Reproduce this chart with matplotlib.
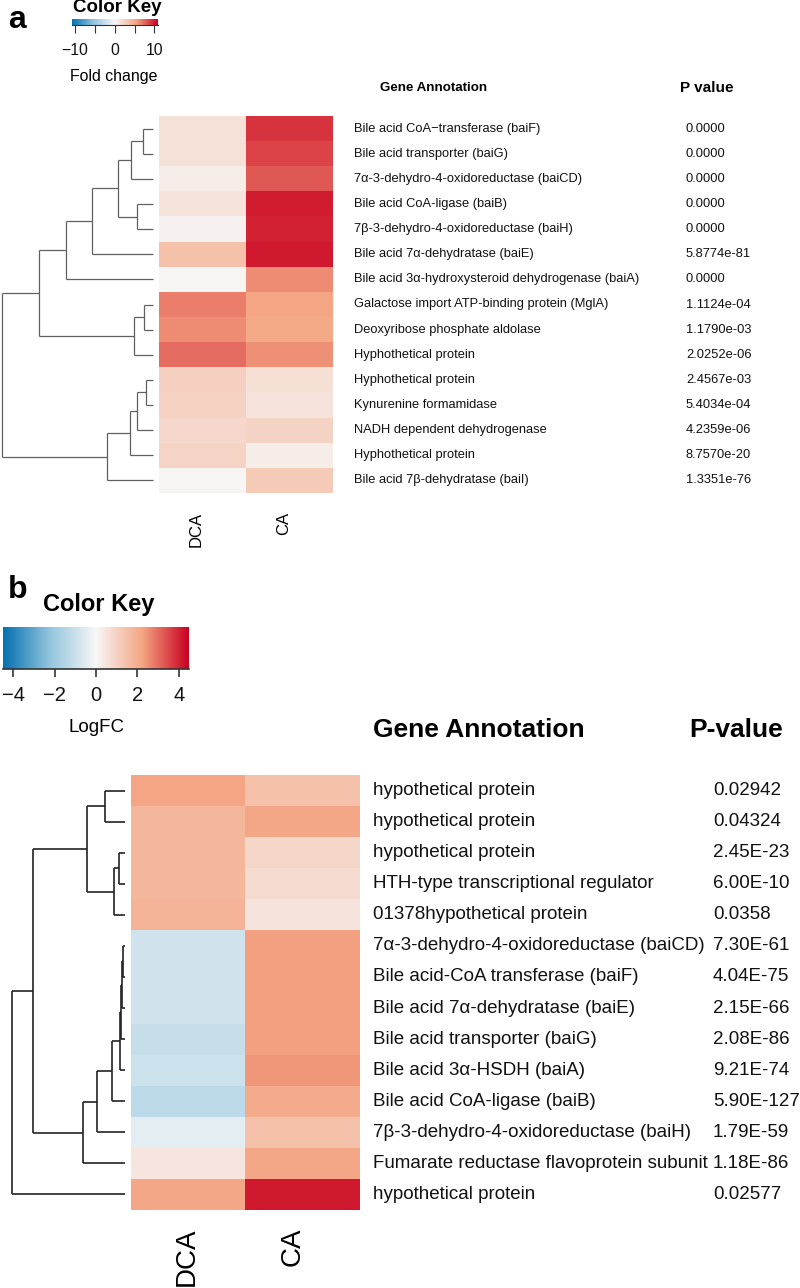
import numpy as np
import matplotlib
matplotlib.use("Agg")
import matplotlib.pyplot as plt
from matplotlib.colors import LinearSegmentedColormap

plt.rcParams['font.family'] = ['Liberation Sans', 'DejaVu Sans']

# ---------------- data: panel a ----------------
a_columns = ["DCA", "CA"]
a_genes = [
    "Bile acid CoA\u2212transferase (baiF)",
    "Bile acid transporter (baiG)",
    "7\u03b1-3-dehydro-4-oxidoreductase (baiCD)",
    "Bile acid CoA-ligase (baiB)",
    "7\u03b2-3-dehydro-4-oxidoreductase (baiH)",
    "Bile acid 7\u03b1-dehydratase (baiE)",
    "Bile acid 3\u03b1-hydroxysteroid dehydrogenase (baiA)",
    "Galactose import ATP-binding protein (MglA)",
    "Deoxyribose phosphate aldolase",
    "Hyphothetical protein",
    "Hyphothetical protein",
    "Kynurenine formamidase",
    "NADH dependent dehydrogenase",
    "Hyphothetical protein",
    "Bile acid 7\u03b2-dehydratase (baiI)",
]
a_pvalues = ["0.0000", "0.0000", "0.0000", "0.0000", "0.0000", "5.8774e-81", "0.0000",
             "1.1124e-04", "1.1790e-03", "2.0252e-06", "2.4567e-03", "5.4034e-04",
             "4.2359e-06", "8.7570e-20", "1.3351e-76"]
a_dca = [1.4, 1.4, 0.6, 1.2, 0.4, 3.5, 0.1, 6.6, 6.2, 7.2, 2.6, 2.4, 2.0, 2.2, 0.1]
a_ca = [9.1, 8.6, 7.9, 9.8, 9.7, 9.9, 6.2, 5.3, 5.1, 6.0, 1.5, 1.25, 2.3, 0.6, 2.9]
# dendrogram merges (left, right, height); leaves 0..14, new clusters from 15
a_merges = [(0, 1, 10), (15, 2, 22), (3, 4, 16), (16, 17, 35), (18, 5, 61), (19, 6, 87),
            (7, 8, 9), (21, 9, 19), (20, 22, 114), (10, 11, 7), (24, 12, 16), (25, 13, 23),
            (26, 14, 46), (23, 27, 151)]
a_key_ticks = [-10, -5, 0, 5, 10]
a_key_labels = ["\u221210", "", "0", "", "10"]

# ---------------- data: panel b ----------------
b_columns = ["DCA", "CA"]
b_genes = [
    "hypothetical protein",
    "hypothetical protein",
    "hypothetical protein",
    "HTH-type transcriptional regulator",
    "01378hypothetical protein",
    "7\u03b1-3-dehydro-4-oxidoreductase (baiCD)",
    "Bile acid-CoA transferase (baiF)",
    "Bile acid 7\u03b1-dehydratase (baiE)",
    "Bile acid transporter (baiG)",
    "Bile acid 3\u03b1-HSDH (baiA)",
    "Bile acid CoA-ligase (baiB)",
    "7\u03b2-3-dehydro-4-oxidoreductase (baiH)",
    "Fumarate reductase flavoprotein subunit",
    "hypothetical protein",
]
b_pvalues = ["0.02942", "0.04324", "2.45E-23", "6.00E-10", "0.0358", "7.30E-61", "4.04E-75",
             "2.15E-66", "2.08E-86", "9.21E-74", "5.90E-127", "1.79E-59", "1.18E-86", "0.02577"]
b_dca = [2.2, 1.73, 1.73, 1.73, 1.84, -0.87, -0.87, -0.87, -1.09, -0.96, -1.31, -0.42, 0.47, 2.17]
b_ca = [1.45, 2.17, 0.85, 0.74, 0.52, 2.3, 2.3, 2.3, 2.3, 2.45, 2.06, 1.5, 2.17, 4.12]
b_merges = [(0, 1, 20), (2, 3, 5.7), (15, 4, 11), (14, 16, 38), (5, 6, 1.7), (18, 7, 3.3),
            (19, 8, 4.3), (20, 9, 5), (21, 10, 13.3), (22, 11, 27.7), (23, 12, 41.7),
            (17, 24, 91.7), (25, 13, 113.3)]
b_key_ticks = [-4, -2, 0, 2, 4]
b_key_labels = ["\u22124", "\u22122", "0", "2", "4"]

# ---------------- helpers ----------------
W, H = 800, 1288
fig = plt.figure(figsize=(W / 100, H / 100), dpi=100)
cmap = LinearSegmentedColormap.from_list(
    "rdbu5", ["#0571b0", "#92c5de", "#f7f7f7", "#f4a582", "#ca0020"])


def px_axes(x0, y0, x1, y1):
    ax = fig.add_axes([x0 / W, 1 - y1 / H, (x1 - x0) / W, (y1 - y0) / H])
    return ax


def ftext(x, y, s, **kw):
    fig.text(x / W, 1 - y / H, s, **kw)


def draw_dendro(ax, merges, n, color, lw):
    pos = {i: (i + 0.5, 0.0) for i in range(n)}
    for k, (l, r, h) in enumerate(merges):
        yl, hl = pos[l]
        yr, hr = pos[r]
        ax.plot([hl, h], [yl, yl], color=color, lw=lw, solid_capstyle='butt', clip_on=False)
        ax.plot([hr, h], [yr, yr], color=color, lw=lw, solid_capstyle='butt', clip_on=False)
        ax.plot([h, h], [yl, yr], color=color, lw=lw, solid_capstyle='butt', clip_on=False)
        pos[n + k] = ((yl + yr) / 2, h)


def heat(ax, dca, ca, vmax):
    data = np.column_stack([dca, ca])
    ax.imshow(data, cmap=cmap, vmin=-vmax, vmax=vmax, aspect='auto',
              interpolation='nearest', extent=(0, 2, len(dca), 0))
    ax.set_axis_off()


def key(ax, vmax, ticks, labels, fs, tick_len, pad, lw):
    grad = np.linspace(-vmax, vmax, 256).reshape(1, -1)
    ax.imshow(grad, cmap=cmap, vmin=-vmax, vmax=vmax, aspect='auto',
              extent=(-vmax, vmax, 0, 1))
    ax.set_xlim(-vmax, vmax)
    ax.set_yticks([])
    for s in ['top', 'left', 'right']:
        ax.spines[s].set_visible(False)
    ax.spines['bottom'].set_linewidth(lw)
    ax.spines['bottom'].set_color('#333333')
    ax.set_xticks(ticks)
    ax.set_xticklabels(labels)
    ax.tick_params(axis='x', direction='out', length=tick_len, width=lw, color='#333333',
                   pad=pad, labelsize=fs, labelcolor='#111111')


# ---------------- panel a ----------------
na = len(a_genes)
ax_ha = px_axes(159, 116, 333, 493)
heat(ax_ha, a_dca, a_ca, 10.8)

ax_da = px_axes(0, 116, 153, 493)
draw_dendro(ax_da, a_merges, na, '#606060', 0.9)
ax_da.set_xlim(153, 0)
ax_da.set_ylim(na, 0)
ax_da.set_axis_off()

ax_la = px_axes(0, 116, 800, 493)
ax_la.set_xlim(0, 800)
ax_la.set_ylim(na, 0)
ax_la.set_axis_off()
for i, (g, p) in enumerate(zip(a_genes, a_pvalues)):
    ax_la.text(354, i + 0.5, g, fontsize=9.3, va='center', ha='left', color='#111111')
    ax_la.text(686, i + 0.5, p, fontsize=9.3, va='center', ha='left', color='#111111')

ftext(380, 88, "Gene Annotation", fontsize=9.6, fontweight='bold', va='center', ha='left')
ftext(680, 88, "P value", fontsize=11, fontweight='bold', va='center', ha='left')
ftext(196, 512, a_columns[0], fontsize=12, rotation=90, ha='center', va='top')
ftext(284, 512, a_columns[1], fontsize=12, rotation=90, ha='center', va='top')

ax_ka = px_axes(72, 19, 157.5, 25)
key(ax_ka, 10.8, a_key_ticks, a_key_labels, 11.3, 5.5, 7.5, 0.8)
ftext(117, 8, "Color Key", fontsize=13.5, fontweight='bold', ha='center', va='center')
ftext(114, 76, "Fold change", fontsize=11.4, ha='center', va='center')
ftext(8, 20, "a", fontsize=23, fontweight='bold', ha='left', va='center')

# ---------------- panel b ----------------
nb = len(b_genes)
ax_hb = px_axes(131, 775, 360, 1210)
heat(ax_hb, b_dca, b_ca, 4.5)

ax_db = px_axes(0, 775, 125, 1210)
draw_dendro(ax_db, b_merges, nb, '#222222', 1.2)
ax_db.set_xlim(125, 0)
ax_db.set_ylim(nb, 0)
ax_db.set_axis_off()

ax_lb = px_axes(0, 775, 800, 1210)
ax_lb.set_xlim(0, 800)
ax_lb.set_ylim(nb, 0)
ax_lb.set_axis_off()
for i, (g, p) in enumerate(zip(b_genes, b_pvalues)):
    ax_lb.text(373, i + 0.5, g, fontsize=13.5, va='center', ha='left', color='#111111')
    ax_lb.text(713, i + 0.5, p, fontsize=13.5, va='center', ha='left', color='#111111')

ftext(373, 730, "Gene Annotation", fontsize=19, fontweight='bold', va='center', ha='left')
ftext(689, 730, "P-value", fontsize=19, fontweight='bold', va='center', ha='left')
ftext(187, 1227, b_columns[0], fontsize=20, rotation=90, ha='center', va='top')
ftext(293, 1227, b_columns[1], fontsize=20, rotation=90, ha='center', va='top')

ax_kb = px_axes(3, 627, 189, 669)
key(ax_kb, 4.5, b_key_ticks, b_key_labels, 14.5, 6, 6.5, 1.2)
ftext(99, 605, "Color Key", fontsize=17, fontweight='bold', ha='center', va='center')
ftext(96, 727, "LogFC", fontsize=13.5, ha='center', va='center')
ftext(8, 590, "b", fontsize=23, fontweight='bold', ha='left', va='center')

fig.savefig("out.png", dpi=100)
